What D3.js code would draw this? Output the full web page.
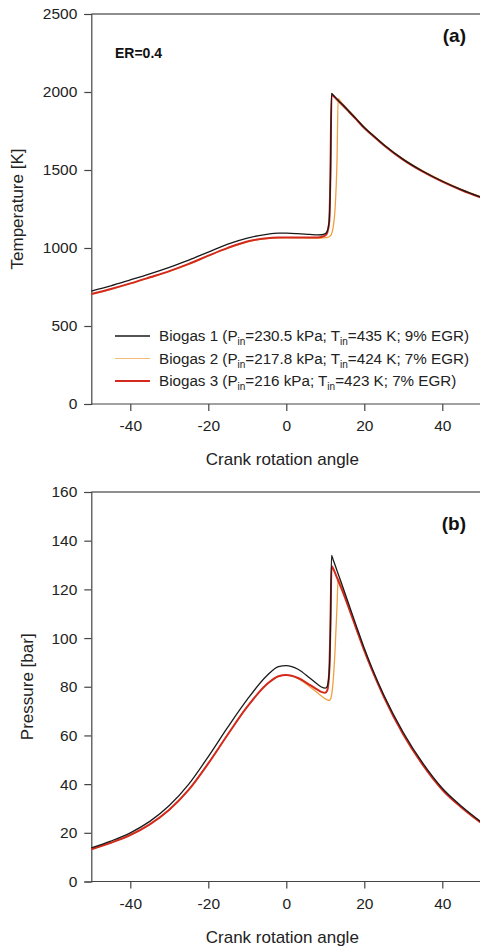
<!DOCTYPE html>
<html>
<head>
<meta charset="utf-8">
<script src="https://cdn.jsdelivr.net/npm/d3@7"></script>
<style>
html,body{margin:0;padding:0;background:#fff;}
svg{display:block;font-family:"Liberation Sans",Arial,sans-serif;}
</style>
</head>
<body>
<svg id="chart" width="480" height="949"></svg>
<script>
// ---- data ----
const angles = [-50,-45,-40,-35,-30,-25,-20,-15,-10,-5,-2,0,3,6,8,9,10,10.5,11,11.3,11.6,12,12.5,13,13.3,14,15,16,18,20,22,25,30,35,40,45,50];

const tempBiogas1 = [724,757,795,834,876,922,974,1025,1064,1088,1095,1095,1092,1087,1084,1085,1092,1108,1175,1420,1991,1981,1968,1955,1947,1930,1905,1878,1826,1772,1727,1662,1568,1492,1428,1373,1325];
const tempBiogas2 = [703,735,771,810,850,896,949,999,1040,1060,1065,1066,1065,1064,1064,1064,1066,1068,1072,1078,1090,1130,1250,1560,1958,1936,1909,1882,1829,1775,1729,1664,1570,1494,1430,1375,1327];
const tempBiogas3 = [705,737,773,812,852,898,951,1001,1042,1062,1067,1068,1067,1067,1068,1071,1080,1098,1165,1450,1985,1976,1964,1951,1943,1926,1901,1875,1823,1769,1724,1659,1565,1489,1425,1370,1322];

const presBiogas1 = [13.8,16.6,20.0,24.7,31.2,40.0,51.3,63.4,74.8,84.5,88.3,88.7,87.2,83.6,81.0,79.9,79.4,80.2,86,102,134,132.2,130,127.7,126.3,123.2,118.6,114,104.8,95.8,87.6,76.6,61.2,48.6,38.3,30.8,24.4];
const presBiogas2 = [13.2,15.9,19.1,23.5,29.5,37.7,48.5,60.4,71.8,81.0,84.3,84.8,83.4,80.0,77.5,76.2,75.0,74.6,74.4,74.8,76.5,82,95,113,124.3,121.8,117.4,112.9,103.8,95,86.9,76,60.5,48,37.8,30.4,24.1];
const presBiogas3 = [13.2,15.9,19.1,23.5,29.5,37.7,48.5,60.4,71.8,81.0,84.3,84.8,83.6,80.8,78.8,77.9,77.5,78.5,86,104,129.5,128.6,126.8,124.8,123.6,120.9,116.8,112.5,103.6,94.8,86.8,75.9,60.4,47.9,37.7,30.3,24.0];

const seriesNames = ["Biogas 1","Biogas 2","Biogas 3"];
const legendP = ["230.5","217.8","216"];
const legendT = ["435","424","423"];
const legendEGR = ["9%","7%","7%"];
const xTicks = [-40,-20,0,20,40];
const tempTicks = [0,500,1000,1500,2000,2500];
const presTicks = [0,20,40,60,80,100,120,140,160];

// ---- styles ----
const colors = ["#1a1a1a","#f0a040","#d42a1e"];
const widths = [1.3,1.3,2];
const drawOrder = [1,2,0];

const svg = d3.select("#chart");
const x = d3.scaleLinear().domain([-50,50]).range([91.3,481.3]);
const fmt = d => String(d);

function panel(cfg){
  const y = d3.scaleLinear().domain(cfg.domain).range(cfg.range);
  const g = svg.append("g");
  g.append("line").attr("x1",x(-50)).attr("x2",480).attr("y1",y(cfg.domain[1])).attr("y2",y(cfg.domain[1]))
    .attr("stroke","#6a6a6a").attr("stroke-width",1.3);
  const xa = g.append("g").attr("transform",`translate(0,${y(0)})`)
    .call(d3.axisBottom(x).tickValues(xTicks).tickSize(7).tickPadding(9).tickFormat(fmt));
  const ya = g.append("g").attr("transform",`translate(${x(-50)},0)`)
    .call(d3.axisLeft(y).tickValues(cfg.ticks).tickSize(7).tickPadding(7).tickFormat(fmt));
  [xa,ya].forEach(a=>{
    a.select(".domain").attr("stroke","#444").attr("stroke-width",1.2);
    a.selectAll(".tick line").attr("stroke","#444").attr("stroke-width",1.2);
    a.selectAll(".tick text").attr("fill","#222").style("font-size","15.5px").style("font-family",'"Liberation Sans",Arial,sans-serif');
  });
  xa.select(".domain").attr("d",`M${x(-50)},0H480`);
  const line = d3.line().x((d,i)=>x(angles[i])).y(d=>y(d)).curve(d3.curveMonotoneX);
  drawOrder.forEach(k=>{
    g.append("path").datum(cfg.series[k]).attr("d",line)
      .attr("fill","none").attr("stroke",colors[k]).attr("stroke-width",widths[k]).attr("stroke-linejoin","round");
  });
  g.append("text").attr("x",(x(-50)+x(50))/2 - 4).attr("y",y(0)+61).attr("text-anchor","middle")
    .style("font-size","17px").attr("fill","#222").text("Crank rotation angle");
  g.append("text").attr("transform",`translate(${cfg.ylabX},${(cfg.range[0]+cfg.range[1])/2}) rotate(-90)`)
    .attr("text-anchor","middle").style("font-size","17px").attr("fill","#222").text(cfg.ylabel);
  g.append("text").attr("x",466).attr("y",cfg.tagY).attr("text-anchor","end")
    .style("font-size","19px").style("font-weight","bold").attr("fill","#111").text(cfg.tag);
  return {g,y};
}

const panelA = panel({domain:[0,2500],range:[404,14],ticks:tempTicks,series:[tempBiogas1,tempBiogas2,tempBiogas3],
  ylabel:"Temperature [K]",ylabX:22.5,tag:"(a)",tagY:42});
const panelB = panel({domain:[0,160],range:[881.5,492],ticks:presTicks,series:[presBiogas1,presBiogas2,presBiogas3],
  ylabel:"Pressure [bar]",ylabX:33,tag:"(b)",tagY:530});

panelA.g.append("text").attr("x",115).attr("y",58).style("font-size","14px").style("font-weight","bold")
  .attr("fill","#111").text("ER=0.4");

const legY = [336,358.5,381];
seriesNames.forEach((name,i)=>{
  const lg = panelA.g.append("g");
  lg.append("line").attr("x1",115).attr("x2",150).attr("y1",legY[i]).attr("y2",legY[i])
    .attr("stroke",colors[i]).attr("stroke-width",i===2?2:(i===1?1:1.6)).attr("stroke-opacity",i===1?0.7:1);
  const t = lg.append("text").attr("x",159).attr("y",legY[i]+5).style("font-size","15.2px").attr("fill","#222");
  t.append("tspan").text(`${name} (P`);
  t.append("tspan").attr("dy",4).style("font-size","10px").text("in");
  t.append("tspan").attr("dy",-4).text(`=${legendP[i]} kPa; T`);
  t.append("tspan").attr("dy",4).style("font-size","10px").text("in");
  t.append("tspan").attr("dy",-4).text(`=${legendT[i]} K; ${legendEGR[i]} EGR)`);
});
</script>
</body>
</html>
